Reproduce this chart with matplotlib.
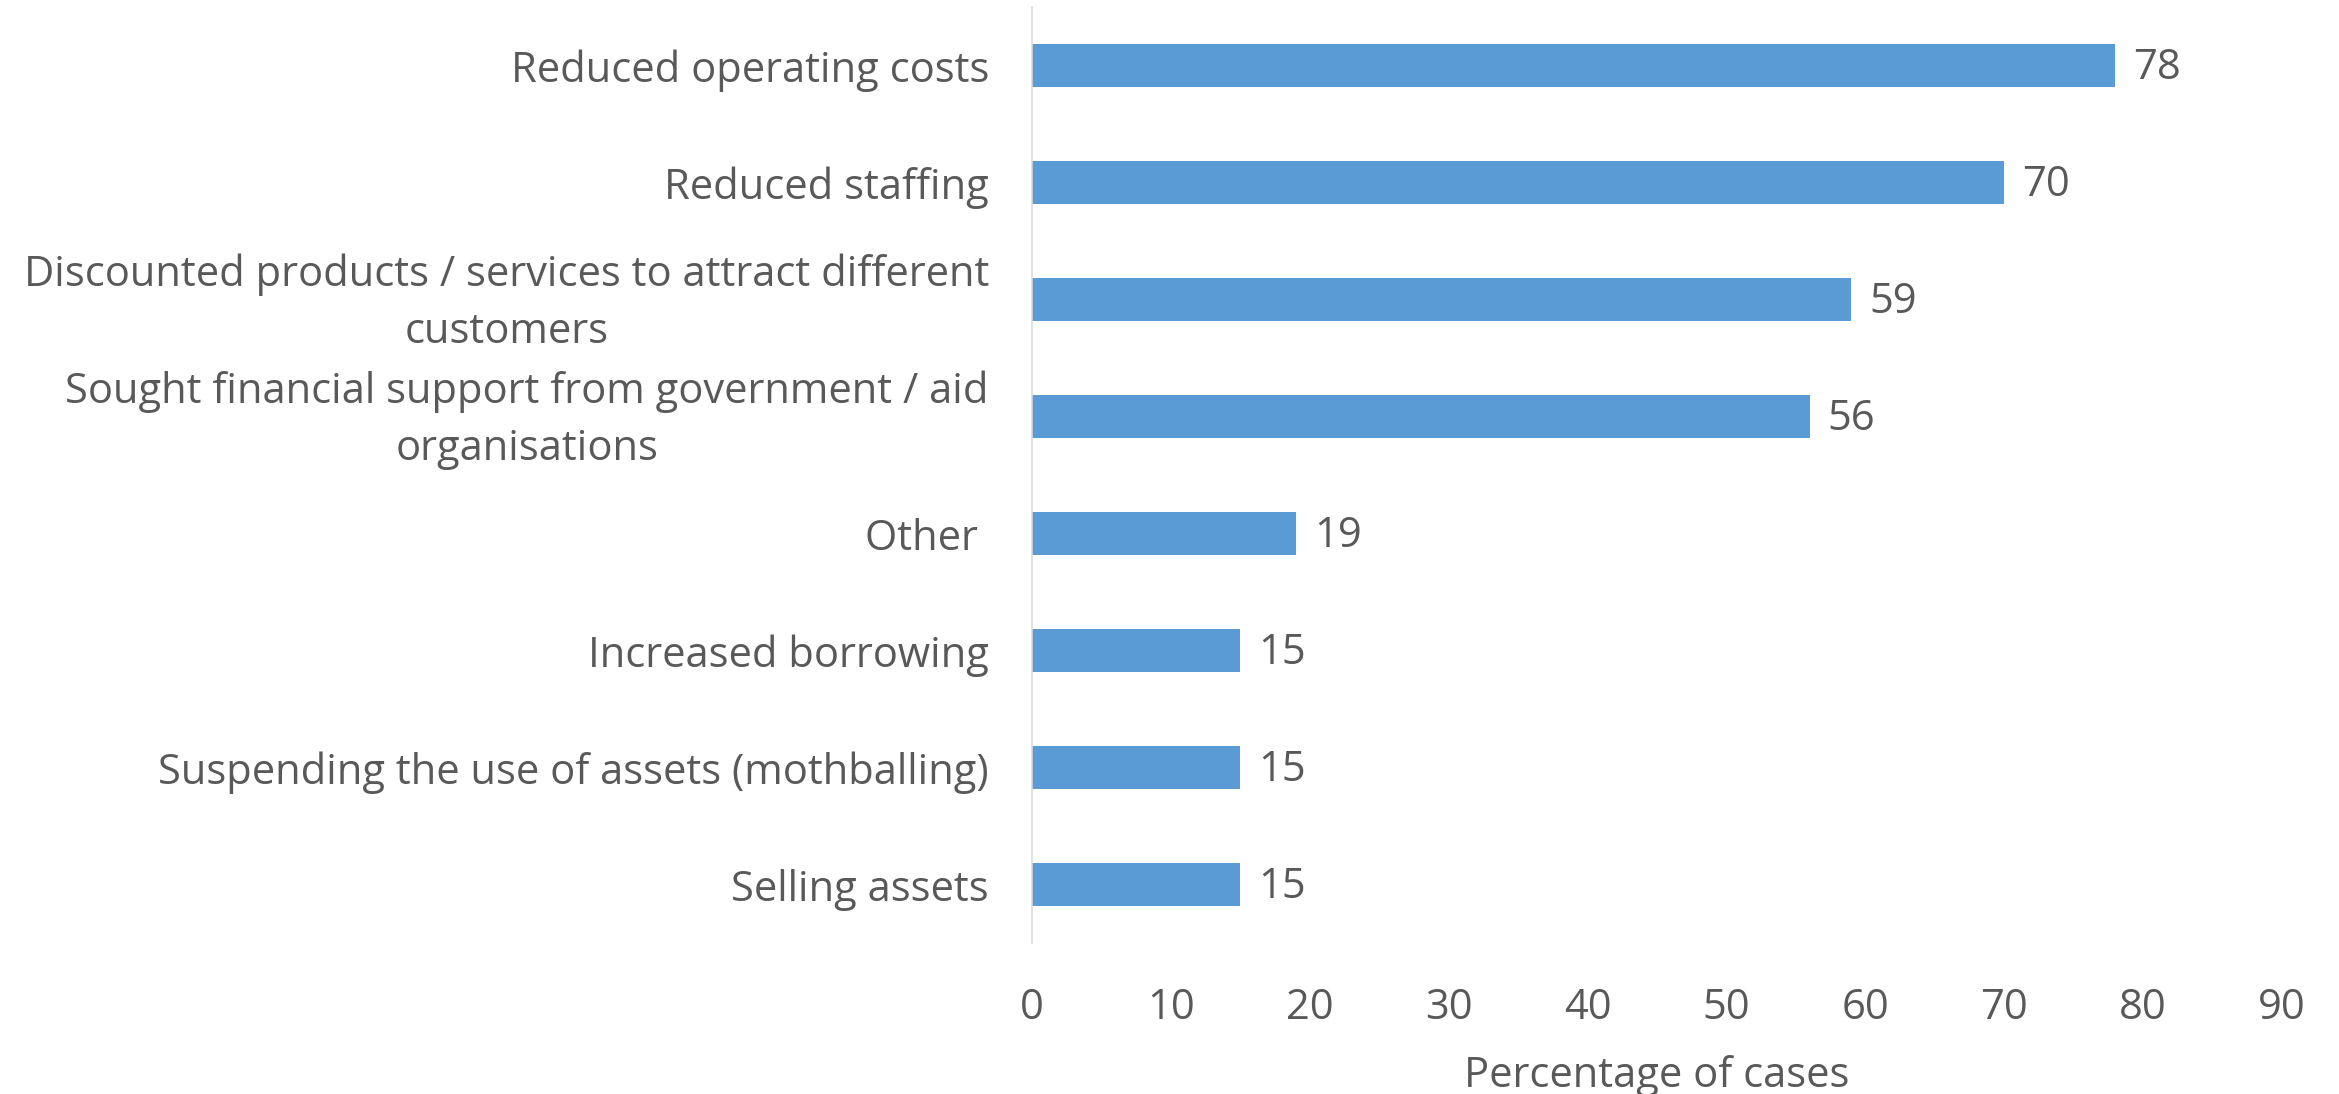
import matplotlib
matplotlib.use("Agg")
import matplotlib.pyplot as plt
import matplotlib.transforms as mtransforms

categories = [
    "Reduced operating costs",
    "Reduced staffing",
    "Discounted products / services to attract different\ncustomers",
    "Sought financial support from government / aid\norganisations",
    "Other ",
    "Increased borrowing",
    "Suspending the use of assets (mothballing)",
    "Selling assets",
]
values = [78, 70, 59, 56, 19, 15, 15, 15]
xticks = [0, 10, 20, 30, 40, 50, 60, 70, 80, 90]
xlabel = "Percentage of cases"

plt.rcParams["font.family"] = ["Open Sans", "DejaVu Sans"]

TEXT = "#595959"
BAR = "#5B9BD5"
FS = 30

fig = plt.figure(figsize=(23.39, 10.94), dpi=100)
ax = fig.add_axes([0.4412, 0.1380, 0.5344, 0.8556])

ypos = list(range(len(categories)))
ax.barh(ypos, values, height=0.36, color=BAR)
ax.set_ylim(len(categories) - 0.5, -0.5)
ax.set_xlim(0, 90)
ax.set_xticks(xticks)
ax.set_xticklabels([str(t) for t in xticks])
ax.set_yticks(ypos)
ax.set_yticklabels(categories, multialignment="center", linespacing=1.45)

for s in ["top", "right", "bottom"]:
    ax.spines[s].set_visible(False)
ax.spines["left"].set_color("#D9D9D9")
ax.spines["left"].set_linewidth(1.1)

ax.tick_params(axis="both", length=0, labelsize=FS, labelcolor=TEXT)
ax.tick_params(axis="x", pad=32)
ax.tick_params(axis="y", pad=31)

shift_up = mtransforms.ScaledTranslation(0, 6 / 72, fig.dpi_scale_trans)
for lab in ax.get_yticklabels():
    if "\n" in lab.get_text():
        lab.set_transform(lab.get_transform() + shift_up)

for y, v in zip(ypos, values):
    ax.annotate(str(v), xy=(v, y), xytext=(13, -2), textcoords="offset points",
                va="center", ha="left", fontsize=FS, color=TEXT)

ax.set_xlabel(xlabel, fontsize=FS, color=TEXT, va="center")
ax.xaxis.set_label_coords(0.5, -0.142)

fig.savefig("out.png", dpi=100)
